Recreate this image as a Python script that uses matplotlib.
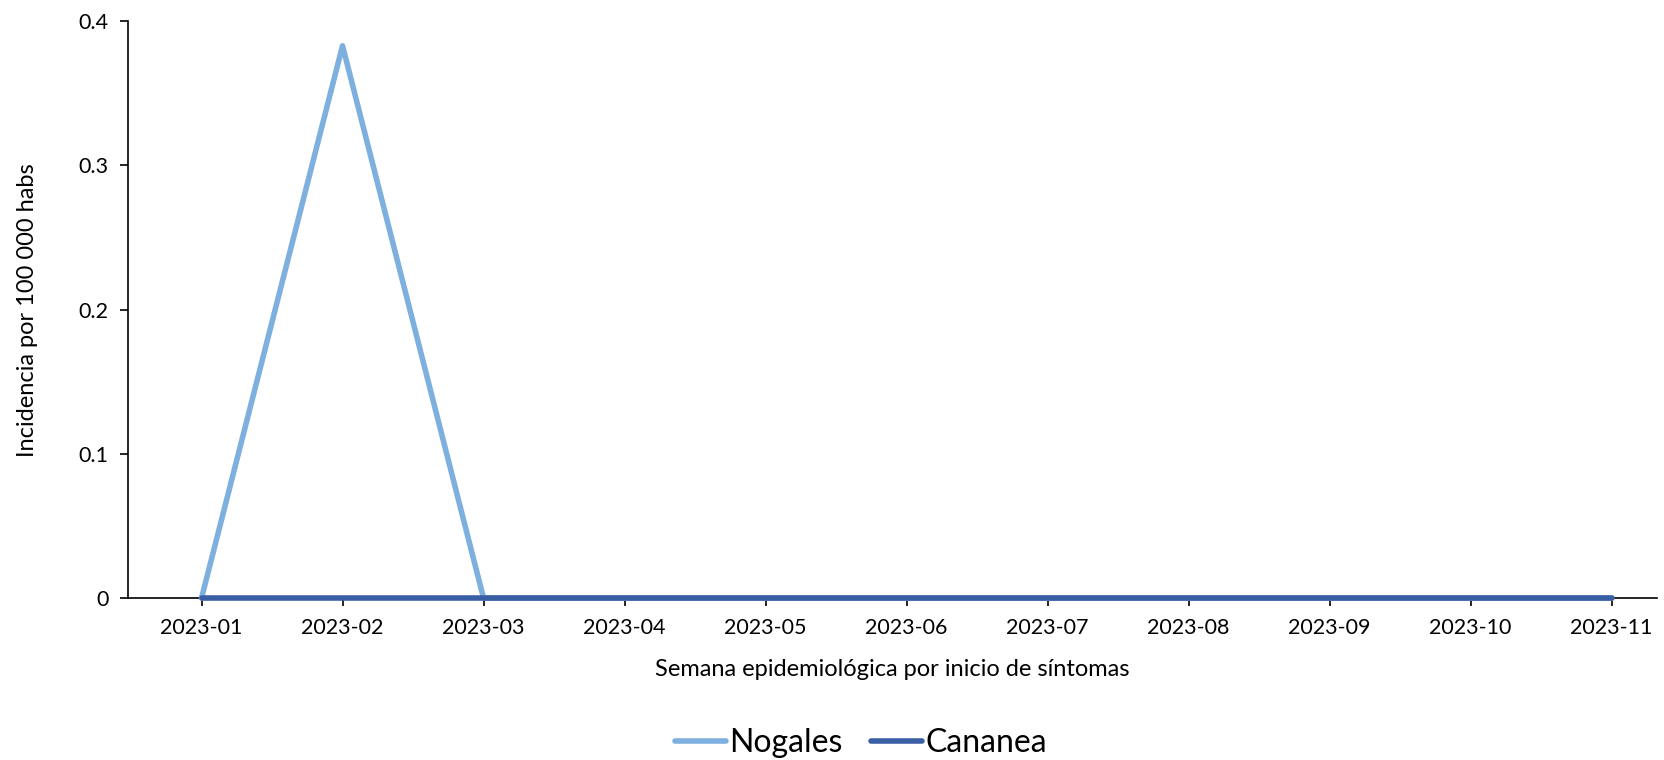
import matplotlib
matplotlib.use("Agg")
import matplotlib.pyplot as plt

# semanas epidemiologicas y tasas por 100 000 habs
semanas = ["2023-01", "2023-02", "2023-03", "2023-04", "2023-05", "2023-06",
           "2023-07", "2023-08", "2023-09", "2023-10", "2023-11"]
nogales = [0, 0.383, 0, 0, 0, 0, 0, 0, 0, 0, 0]
cananea = [0, 0, 0, 0, 0, 0, 0, 0, 0, 0, 0]

plt.rcParams['font.family'] = ['Lato', 'DejaVu Sans']

fig = plt.figure(figsize=(16.65, 7.6), dpi=100)
ax = fig.add_axes([0.077, 0.213, 0.918, 0.759])

x = list(range(len(semanas)))
ax.plot(x, nogales, color="#7DB0DE", lw=4, solid_capstyle="round", label="Nogales",
        zorder=3, clip_on=False)
ax.plot(x, cananea, color="#3A5EA4", lw=4, solid_capstyle="round", label="Cananea",
        zorder=4, clip_on=False)

ax.set_xlim(-0.52, 10.32)
ax.set_ylim(0, 0.4)
ax.set_yticks([0, 0.1, 0.2, 0.3, 0.4])
ax.set_yticklabels(["0", "0.1", "0.2", "0.3", "0.4"])
ax.set_xticks(x)
ax.set_xticklabels(semanas)
ax.tick_params(axis="both", labelsize=15.5, direction="out", length=6, width=1.2, pad=8)

for s in ["top", "right"]:
    ax.spines[s].set_visible(False)
for s in ["left", "bottom"]:
    ax.spines[s].set_linewidth(1.2)

ax.set_xlabel("Semana epidemiológica por inicio de síntomas", fontsize=17, va="center")
ax.xaxis.set_label_coords(0.5, -0.123)
ax.set_ylabel("Incidencia por 100 000 habs", fontsize=17, va="center")
ax.yaxis.set_label_coords(-0.066, 0.5)

handles, labels = ax.get_legend_handles_labels()
fig.legend(handles, labels, loc="center", bbox_to_anchor=(0.517, 0.022), ncol=2, frameon=False,
           fontsize=23, handlelength=1.6, handletextpad=0.1, columnspacing=0.9)

fig.savefig("out.png", dpi=100)
